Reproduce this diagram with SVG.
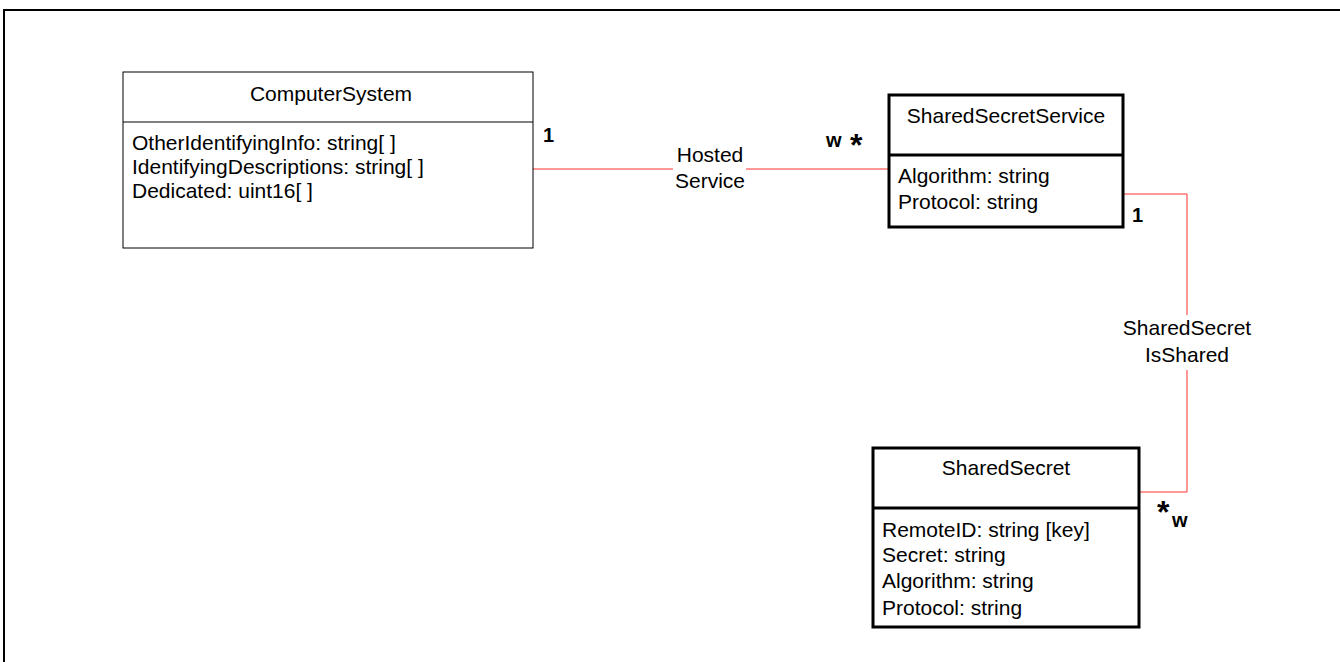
<svg xmlns="http://www.w3.org/2000/svg" width="1340" height="662" viewBox="0 0 1340 662">
<style>
text{font-family:"Liberation Sans",Arial,sans-serif;font-size:21px;fill:#000}
.t{text-anchor:middle}
.b{font-weight:bold;font-size:20px}
.s{font-weight:bold;font-size:32px}
.thin{fill:#fff;stroke:#000;stroke-width:1}
.thick{fill:#fff;stroke:#000;stroke-width:3}
.c{fill:none;stroke:#ff3030;stroke-width:1}
</style>
<rect width="1340" height="662" fill="#fff"/>
<rect x="4" y="10" width="1400" height="700" fill="none" stroke="#000" stroke-width="2"/>
<g id="connectors">
<path class="c" d="M533 169H673M746 169H890V161"/>
<path class="c" d="M1123 194H1187V315M1187 370V492H1140"/>
<text class="t" x="710" y="162">Hosted</text>
<text class="t" x="710" y="188">Service</text>
<text class="t" x="1187" y="335">SharedSecret</text>
<text class="t" x="1187" y="362">IsShared</text>
<text class="b" x="543" y="142">1</text>
<text class="b" x="826" y="147">w</text>
<text class="s" x="850" y="156">*</text>
<text class="b" x="1132" y="222">1</text>
<text class="s" x="1157" y="523">*</text>
<text class="b" x="1172" y="527">w</text>
</g>
<g id="ComputerSystem">
<rect class="thin" x="123" y="72" width="410" height="176"/>
<line x1="123" y1="122" x2="533" y2="122" stroke="#000" stroke-width="1"/>
<text class="t" x="331" y="101">ComputerSystem</text>
<text x="132" y="150">OtherIdentifyingInfo: string[ ]</text>
<text x="132" y="174">IdentifyingDescriptions: string[ ]</text>
<text x="132" y="198">Dedicated: uint16[ ]</text>
</g>
<g id="SharedSecretService">
<rect class="thick" x="889" y="95" width="234" height="132"/>
<line x1="889" y1="155" x2="1123" y2="155" stroke="#000" stroke-width="3"/>
<text class="t" x="1006" y="123">SharedSecretService</text>
<text x="898" y="183">Algorithm: string</text>
<text x="898" y="209">Protocol: string</text>
</g>
<g id="SharedSecret">
<rect class="thick" x="873" y="448" width="266" height="179"/>
<line x1="873" y1="508" x2="1139" y2="508" stroke="#000" stroke-width="3"/>
<text class="t" x="1006" y="475">SharedSecret</text>
<text x="882" y="537">RemoteID: string [key]</text>
<text x="882" y="562">Secret: string</text>
<text x="882" y="588">Algorithm: string</text>
<text x="882" y="615">Protocol: string</text>
</g>
</svg>
